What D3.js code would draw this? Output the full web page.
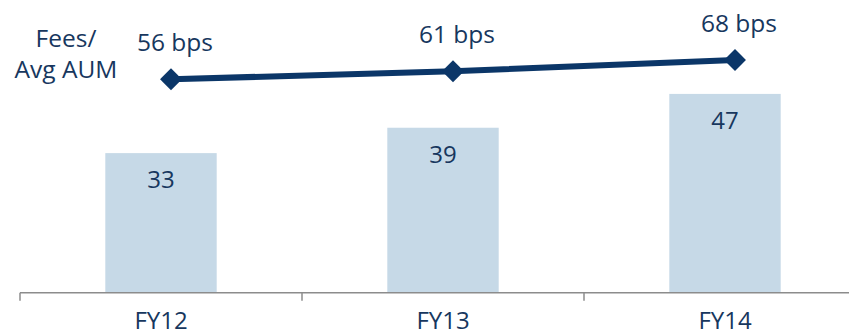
<!DOCTYPE html>
<html><head><meta charset="utf-8">
<script src="https://cdn.jsdelivr.net/npm/d3@7"></script>
<style>body{margin:0;background:#fff}svg{display:block}text{font-family:"Open Sans",sans-serif;fill:#17375e}</style>
</head><body><svg id="c" width="849" height="336"></svg>
<script>
const categories = ["FY12", "FY13", "FY14"];
const barValues = [33, 39, 47];
const bpsValues = [56, 61, 68];
const bpsLabels = ["56 bps", "61 bps", "68 bps"];
const seriesTitle = ["Fees/", "Avg AUM"];

const svg = d3.select("#c");
const x = d3.scaleBand().domain(categories).range([20, 866]).padding(0);
const y = d3.scaleLinear().domain([0, 69.2]).range([292.7, 0]);
const y2 = d3.scaleLinear().domain([56, 68]).range([79.3, 60]);
const barW = x.bandwidth() * 0.395;
const lineOffset = 10;

// bars
svg.selectAll("rect.bar").data(barValues).join("rect")
  .attr("class", "bar")
  .attr("x", (d, i) => x(categories[i]) + x.bandwidth() / 2 - barW / 2)
  .attr("y", d => y(d))
  .attr("width", barW)
  .attr("height", d => y(0) - y(d))
  .attr("fill", "#c6d9e7");

svg.selectAll("text.bl").data(barValues).join("text")
  .attr("class", "bl")
  .attr("x", (d, i) => x(categories[i]) + x.bandwidth() / 2)
  .attr("y", d => y(d) + 35)
  .attr("text-anchor", "middle")
  .attr("font-size", 24)
  .text(d => d);

// axis
const axis = d3.axisBottom(x).tickSize(0).tickPadding(0).tickFormat(() => "");
const gA = svg.append("g").attr("transform", `translate(0,${y(0)})`).call(axis);
gA.select(".domain").attr("stroke", "#8c8c8c").attr("stroke-width", 1.5).attr("d", `M20,0H849`);
gA.selectAll(".tick").remove();
const bounds = categories.map(c => x(c));
svg.selectAll("line.tk").data(bounds).join("line")
  .attr("class", "tk")
  .attr("x1", d => d).attr("x2", d => d)
  .attr("y1", y(0)).attr("y2", y(0) + 8)
  .attr("stroke", "#8c8c8c").attr("stroke-width", 1.5);
svg.selectAll("text.cat").data(categories).join("text")
  .attr("class", "cat")
  .attr("x", d => x(d) + x.bandwidth() / 2)
  .attr("y", 329)
  .attr("text-anchor", "middle")
  .attr("font-size", 24)
  .text(d => d);

// line
const lx = (i) => x(categories[i]) + x.bandwidth() / 2 + lineOffset;
const line = d3.line().x((d, i) => lx(i)).y(d => y2(d));
svg.append("path").datum(bpsValues)
  .attr("d", line).attr("fill", "none")
  .attr("stroke", "#0b3668").attr("stroke-width", 6);
const diamond = d3.symbol().type(d3.symbolSquare).size(240);
svg.selectAll("path.mk").data(bpsValues).join("path")
  .attr("class", "mk")
  .attr("d", diamond)
  .attr("transform", (d, i) => `translate(${lx(i)},${y2(d)}) rotate(45)`)
  .attr("fill", "#0b3668");
svg.selectAll("text.ll").data(bpsValues).join("text")
  .attr("class", "ll")
  .attr("x", (d, i) => lx(i) + 4)
  .attr("y", d => y2(d) - 28)
  .attr("text-anchor", "middle")
  .attr("font-size", 24.5)
  .text((d, i) => bpsLabels[i]);

// series title
svg.selectAll("text.st").data(seriesTitle).join("text")
  .attr("class", "st")
  .attr("x", 66)
  .attr("y", (d, i) => 47 + i * 31)
  .attr("text-anchor", "middle")
  .attr("font-size", 24.5)
  .text(d => d);
</script></body></html>
